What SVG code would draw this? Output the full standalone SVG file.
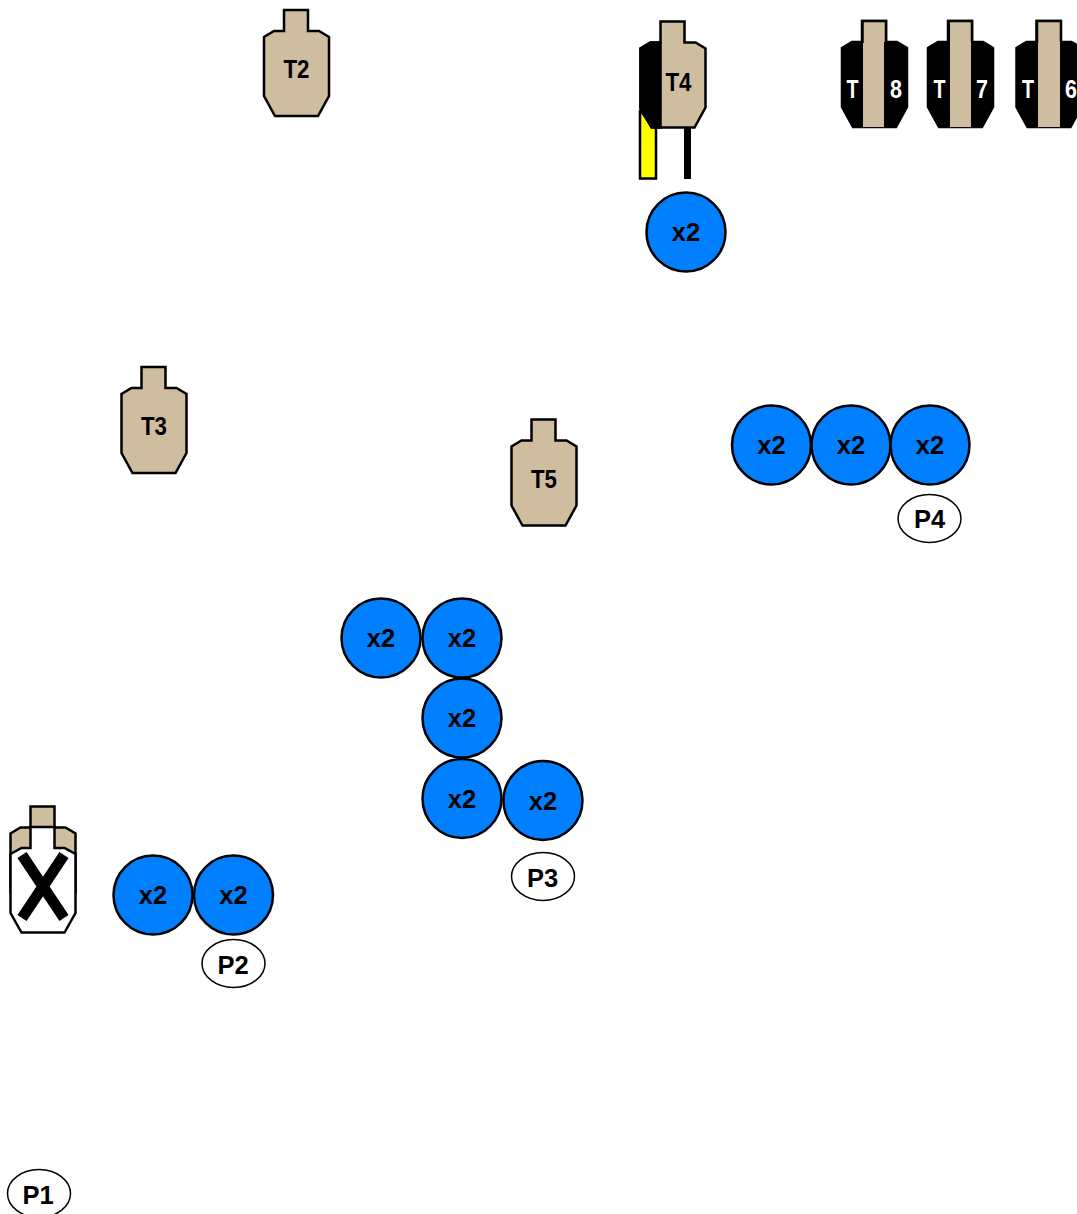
<svg xmlns="http://www.w3.org/2000/svg" width="1077" height="1214" viewBox="0 0 1077 1214">
<style>
text{font-family:"Liberation Sans",Arial,sans-serif;font-weight:700;text-anchor:middle;fill:#000}
.c{fill:#007fff;stroke:#000;stroke-width:2.5}
.c2{font-size:25.5px}
.p{fill:#fff;stroke:#000;stroke-width:1.5}
.l{font-size:25.5px}
.t{fill:#cfbd9f;stroke:#000;stroke-width:2.5;stroke-linejoin:miter}
.k{fill:#000;stroke:#000;stroke-width:2.5}
.tt{font-size:26px}
.w{fill:#fff}
</style>
<defs>
<path id="sil" d="M20 31V10H44V31H55L65 37V96L54 116H11L0 96V37L10 31Z"/>
<g id="blue"><circle class="c" r="39.500"/><text class="c2" y="9">x2</text></g>
</defs>
<g id="T2"><use href="#sil" class="t" x="264" y="0"/><text class="tt" x="296.500" y="78" textLength="26" lengthAdjust="spacingAndGlyphs">T2</text></g>
<g id="T3"><use href="#sil" class="t" x="121.500" y="357"/><text class="tt" x="154" y="435" textLength="26" lengthAdjust="spacingAndGlyphs">T3</text></g>
<g id="T5"><use href="#sil" class="t" x="511.500" y="409.500"/><text class="tt" x="544" y="487.500" textLength="26" lengthAdjust="spacingAndGlyphs">T5</text></g>
<g id="T4">
<path d="M640 112V178.500H656V120Z" fill="#ff0" stroke="#000" stroke-width="2.500"/>
<rect x="684" y="120" width="7" height="59" fill="#000"/>
<use href="#sil" class="t" x="640.500" y="11.500"/>
<path d="M660.500 42.500H650.500L640.500 48.500V110L652 127.500H660.500Z" class="k"/>
<text class="tt" x="678.500" y="91" textLength="26" lengthAdjust="spacingAndGlyphs">T4</text>
</g>
<g id="T8">
<use href="#sil" class="k" x="842" y="11"/>
<path d="M863 21.500H885.500V42H884V127H863Z" fill="#cfbd9f"/>
<path d="M862.500 43V21H886V42" fill="none" stroke="#000" stroke-width="2.500"/>
<text class="tt w" x="852.500" y="98" textLength="12" lengthAdjust="spacingAndGlyphs">T</text>
<text class="tt w" x="896" y="98" textLength="12" lengthAdjust="spacingAndGlyphs">8</text>
</g>
<g id="T7">
<use href="#sil" class="k" x="928" y="11"/>
<path d="M950 21.500H971.500V42H971V127H950Z" fill="#cfbd9f"/>
<path d="M948.500 43V21H972V42" fill="none" stroke="#000" stroke-width="2.500"/>
<text class="tt w" x="939.500" y="98" textLength="12" lengthAdjust="spacingAndGlyphs">T</text>
<text class="tt w" x="982" y="98" textLength="12" lengthAdjust="spacingAndGlyphs">7</text>
</g>
<g id="T6">
<use href="#sil" class="k" x="1016.500" y="11"/>
<path d="M1038 21.500H1060.500V42H1060V127H1038Z" fill="#cfbd9f"/>
<path d="M1037 43V21H1061V42" fill="none" stroke="#000" stroke-width="2.500"/>
<text class="tt w" x="1028" y="98" textLength="12" lengthAdjust="spacingAndGlyphs">T</text>
<text class="tt w" x="1071" y="98" textLength="12" lengthAdjust="spacingAndGlyphs">6</text>
</g>
<g id="T1">
<use href="#sil" class="t" x="10.500" y="796.500"/>
<path d="M30.500 827V848H21.500L10.500 854V913L21.500 932.500H64.500L75.500 913V854L64.500 848H54.500V827Z" fill="#fff" stroke="#000" stroke-width="2.500"/>
<path d="M22 855L64 918M64 855L22 918" fill="none" stroke="#000" stroke-width="11"/>
</g>
<use id="n1" href="#blue" x="686" y="232"/>
<use id="n2" href="#blue" x="771.500" y="445"/>
<use id="n3" href="#blue" x="851" y="445"/>
<use id="n4" href="#blue" x="930" y="445"/>
<use id="n5" href="#blue" x="381" y="638"/>
<use id="n6" href="#blue" x="462" y="638"/>
<use id="n7" href="#blue" x="462" y="718"/>
<use id="n8" href="#blue" x="462" y="798.500"/>
<use id="n9" href="#blue" x="543" y="800.500"/>
<use id="n10" href="#blue" x="153" y="895"/>
<use id="n11" href="#blue" x="233.500" y="895"/>
<g id="P4"><ellipse class="p" cx="929.500" cy="518.500" rx="31.500" ry="24"/><text class="l" x="929.500" y="528">P4</text></g>
<g id="P3"><ellipse class="p" cx="543" cy="876.500" rx="31.500" ry="24"/><text class="l" x="542.500" y="886.500">P3</text></g>
<g id="P2"><ellipse class="p" cx="233.500" cy="963.500" rx="31.500" ry="24"/><text class="l" x="233" y="973.500">P2</text></g>
<g id="P1"><ellipse class="p" cx="39" cy="1193.500" rx="31.500" ry="24"/><text class="l" x="38" y="1203.500">P1</text></g>
<g id="connectors"/>
</svg>
